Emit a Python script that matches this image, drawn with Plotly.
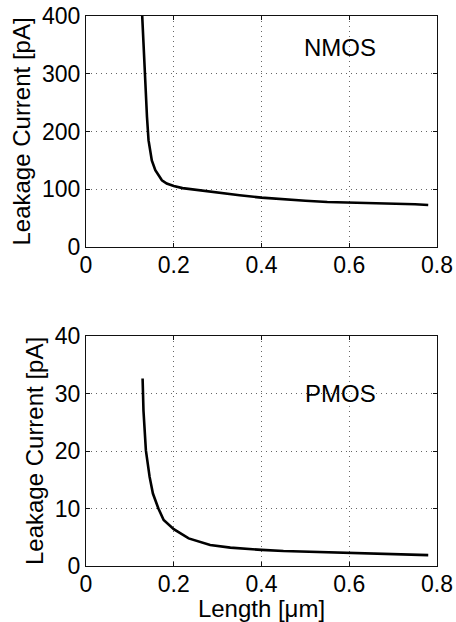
import plotly.graph_objects as go

# NMOS leakage current vs. channel length
nmos_length = [0.125, 0.13, 0.133, 0.139, 0.1425, 0.15, 0.158, 0.173, 0.184, 0.2, 0.22, 0.25, 0.3, 0.35, 0.4, 0.45, 0.5, 0.55, 0.6, 0.65, 0.7, 0.75, 0.78]
nmos_current = [450, 369, 300, 225, 185, 150, 133, 115.5, 110, 105.5, 102, 99, 93.5, 89.5, 85.5, 82.5, 80, 78, 77.3, 76, 75.6, 74, 72.7]

# PMOS leakage current vs. channel length
pmos_length = [0.129, 0.131, 0.1365, 0.145, 0.1525, 0.165, 0.177, 0.2, 0.234, 0.25, 0.283, 0.329, 0.374, 0.4, 0.45, 0.5, 0.55, 0.6, 0.65, 0.7, 0.78]
pmos_current = [32.6, 27.0, 20.1, 15.5, 12.6, 10.0, 8.0, 6.4, 4.8, 4.4, 3.65, 3.2, 2.9, 2.8, 2.6, 2.5, 2.3, 2.2, 2.1, 2.0, 1.9]

x_ticks = [0, 0.2, 0.4, 0.6, 0.8]
x_labels = ["0", "0.2", "0.4", "0.6", "0.8"]
nmos_yticks = [0, 100, 200, 300, 400]
pmos_yticks = [0, 10, 20, 30, 40]

FONT = "Liberation Sans, Arial, Helvetica, sans-serif"
FS_TICK = 23
FS = 24
AXC = "#111111"
GRIDC = "#666666"

fig = go.Figure()
fig.add_trace(go.Scatter(x=nmos_length, y=nmos_current, mode="lines",
                         line=dict(color="black", width=2.6), xaxis="x", yaxis="y",
                         showlegend=False))
fig.add_trace(go.Scatter(x=pmos_length, y=pmos_current, mode="lines",
                         line=dict(color="black", width=2.6), xaxis="x2", yaxis="y2",
                         showlegend=False))

common = dict(showline=True, linecolor=AXC, linewidth=1.2, mirror="ticks",
              ticks="inside", ticklen=4, tickcolor=AXC, tickwidth=1,
              showgrid=True, gridcolor=GRIDC, griddash="1px,4px", gridwidth=1,
              zeroline=False, automargin=False,
              tickfont=dict(family=FONT, size=FS_TICK, color="black"))
common_x = dict(range=[0, 0.8], tickvals=x_ticks, ticktext=x_labels,
                ticklabelstandoff=-3, **common)

H_TOTAL = 622
mt, mb = 16, 56
ph = H_TOTAL - mt - mb
top_lo = (566 - 247) / ph
bot_hi = (566 - 336) / ph

fig.update_layout(
    width=456, height=622,
    margin=dict(l=86, r=19, t=mt, b=mb, pad=0),
    paper_bgcolor="white", plot_bgcolor="white",
    font=dict(family=FONT, size=FS, color="black"),
    xaxis=dict(domain=[0, 1], anchor="y", **common_x),
    yaxis=dict(domain=[top_lo, 1], anchor="x", range=[0, 400], tickvals=nmos_yticks,
               title=dict(text="Leakage Current [pA]", font=dict(family=FONT, size=FS), standoff=4),
               **common),
    xaxis2=dict(domain=[0, 1], anchor="y2",
                title=dict(text="Length [μm]", font=dict(family=FONT, size=FS), standoff=0),
                **common_x),
    yaxis2=dict(domain=[0, bot_hi], anchor="x2", range=[0, 40], tickvals=pmos_yticks,
                title=dict(text="Leakage Current [pA]", font=dict(family=FONT, size=FS), standoff=4),
                **common),
    annotations=[
        dict(text="NMOS", x=0.58, y=346, xref="x", yref="y", showarrow=False,
             font=dict(family=FONT, size=FS, color="black")),
        dict(text="PMOS", x=0.58, y=30, xref="x2", yref="y2", showarrow=False,
             font=dict(family=FONT, size=FS, color="black")),
    ],
)

fig.write_html("out.html", config={"displayModeBar": False},
               post_script="document.body.style.margin='0';document.body.style.overflow='hidden';")
